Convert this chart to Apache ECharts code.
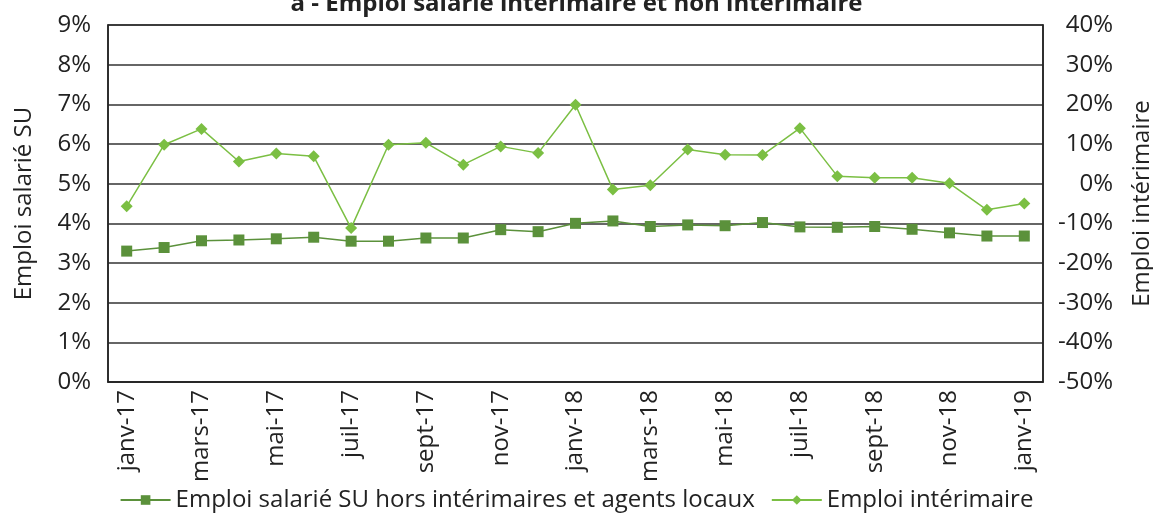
<!DOCTYPE html>
<html><head><meta charset="utf-8">
<script src="https://cdn.jsdelivr.net/npm/echarts@6/dist/echarts.min.js"></script>
<style>html,body{margin:0;padding:0;background:#fff}#c{width:1153px;height:515px}</style>
</head><body><div id="c"></div>
<script>
const categories = ['janv-17','févr-17','mars-17','avr-17','mai-17','juin-17','juil-17','août-17','sept-17','oct-17','nov-17','déc-17',
 'janv-18','févr-18','mars-18','avr-18','mai-18','juin-18','juil-18','août-18','sept-18','oct-18','nov-18','déc-18','janv-19'];
const emploiSU = [3.30,3.39,3.56,3.58,3.61,3.65,3.55,3.55,3.63,3.63,3.84,3.79,4.00,4.06,3.92,3.96,3.94,4.02,3.91,3.90,3.92,3.85,3.76,3.68,3.68];
const emploiInterim = [-5.7,9.8,13.8,5.6,7.6,6.9,-11.2,9.8,10.3,4.8,9.4,7.7,19.9,-1.5,-0.4,8.6,7.3,7.2,14.0,1.9,1.5,1.5,0.1,-6.6,-5.0];
const seriesNames = ['Emploi salarié SU hors intérimaires et agents locaux','Emploi intérimaire'];
const titleText = 'a - Emploi salarié intérimaire et non intérimaire';

const FONT = 'Open Sans';
const FS = 24;
const chart = echarts.init(document.getElementById('c'));
chart.setOption({
  animation:false,
  textStyle:{fontFamily:FONT},
  title:{text:titleText,left:'center',top:-13,textStyle:{fontFamily:FONT,fontSize:FS,fontWeight:'bold',color:'#222'}},
  grid:{left:108,right:110,top:25,bottom:133,show:true,borderColor:'#222',borderWidth:1.5,
    containLabel:false,outerBoundsMode:'none'},
  legend:{bottom:-2,left:'center',itemWidth:50,itemHeight:12,itemGap:16,
    textStyle:{fontFamily:FONT,fontSize:FS,color:'#222'},
    data:seriesNames},
  xAxis:{type:'category',data:categories,boundaryGap:true,
    axisLine:{lineStyle:{color:'#222',width:1.5}},axisTick:{show:false},
    axisLabel:{interval:1,rotate:90,fontSize:FS,color:'#222',fontFamily:FONT,margin:8}},
  yAxis:[
    {type:'value',min:0,max:9,interval:1,position:'left',
     name:'Emploi salarié SU',nameLocation:'middle',nameGap:72,nameRotate:90,
     nameTextStyle:{fontFamily:FONT,fontSize:FS,color:'#222'},
     axisLabel:{formatter:v=>v+'%',fontSize:FS,color:'#222',margin:17,fontFamily:FONT},
     axisLine:{show:true,lineStyle:{color:'#222',width:1.5}},axisTick:{show:false},
     splitLine:{lineStyle:{color:'#333',width:1.5}}},
    {type:'value',min:-50,max:40,interval:10,position:'right',
     name:'Emploi intérimaire',nameLocation:'middle',nameGap:87,nameRotate:90,
     nameTextStyle:{fontFamily:FONT,fontSize:FS,color:'#222'},
     axisLabel:{formatter:v=>v+'%',fontSize:FS,color:'#222',margin:70,fontFamily:FONT,align:'right'},
     axisLine:{show:true,lineStyle:{color:'#222',width:1.5}},axisTick:{show:false},
     splitLine:{show:false}}
  ],
  series:[
    {name:seriesNames[0],type:'line',yAxisIndex:0,data:emploiSU,
     symbol:'rect',symbolSize:11,color:'#5b913b',
     lineStyle:{width:1.5,color:'#5b913b'},itemStyle:{color:'#5b913b'}},
    {name:seriesNames[1],type:'line',yAxisIndex:1,data:emploiInterim,
     symbol:'diamond',symbolSize:12,color:'#7bbf43',
     lineStyle:{width:1.5,color:'#7bbf43'},itemStyle:{color:'#7bbf43'}}
  ]
});
</script></body></html>
